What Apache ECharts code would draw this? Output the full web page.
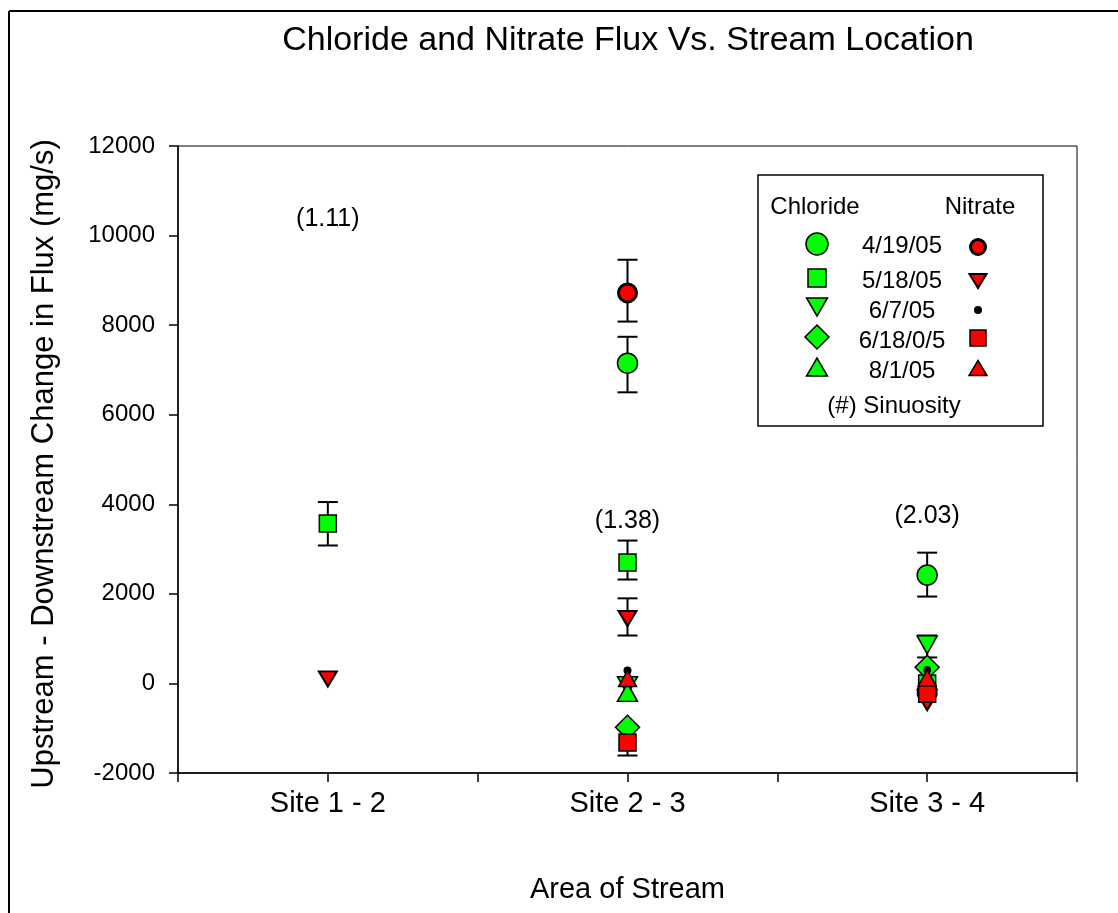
<!DOCTYPE html>
<html>
<head>
<meta charset="utf-8">
<script src="https://cdn.jsdelivr.net/npm/echarts@6/dist/echarts.min.js"></script>
<style>
html,body{margin:0;padding:0;background:#fff;}
#chart{width:1118px;height:913px;}
</style>
</head>
<body>
<div id="chart"></div>
<script>
// ---------- DATA ----------
const categories = ['Site 1 - 2', 'Site 2 - 3', 'Site 3 - 4'];
const sitePos = [1, 2, 3];
const dates = ['4/19/05', '5/18/05', '6/7/05', '6/18/0/5', '8/1/05'];
const yTicks = [-2000, 0, 2000, 4000, 6000, 8000, 10000, 12000];

// Chloride (per site, null = not measured)
const chl_0419 = [null, 7150, 2420];
const chl_0518 = [3570, 2700, 0];
const chl_0607 = [null, -50, 860];
const chl_0618 = [null, -980, 360];
const chl_0801 = [null, -200, 60];

// Nitrate
const nit_0419 = [null, 8720, -200];
const nit_0518 = [100, 1450, -430];
const nit_0607 = [null, 290, 300];
const nit_0618 = [null, -1320, -230];
const nit_0801 = [null, 110, 120];

// Error bars: site position, low, high
const errX    = [1, 2, 2, 2, 2, 2, 3, 3];
const errLow  = [3080, 8080, 6500, 2320, 1070, -1610, 1940, 580];
const errHigh = [4050, 9460, 7740, 3190, 1900, -1030, 2920, 1070];

// Sinuosity annotations
const sinX = [1, 2, 3];
const sinY = [10375, 3615, 3726];
const sinText = ['(1.11)', '(1.38)', '(2.03)'];

// ---------- CHART ----------
const FONT = 'Liberation Sans, Arial, sans-serif';
const GREEN = '#00ff00', RED = '#ff0000';
const chart = echarts.init(document.getElementById('chart'), null, {renderer: 'canvas'});

function pts(vals) {
  const out = [];
  vals.forEach((v, i) => { if (v !== null) out.push([sitePos[i], v]); });
  return out;
}
function sc(name, vals, symbol, size, color, opts) {
  opts = opts || {};
  return {
    name: name, type: 'scatter', data: pts(vals), symbol: symbol, symbolSize: size,
    symbolRotate: opts.rotate || 0, z: opts.z || 3,
    itemStyle: {color: color, borderColor: '#000', borderWidth: opts.bw === undefined ? 1.5 : opts.bw, opacity: 1},
    emphasis: {disabled: true}
  };
}

const errData = errX.map((x, i) => [x, errLow[i], errHigh[i]]);
const sinData = sinX.map((x, i) => [x, sinY[i], i]);

// legend graphics
const LX = 758, LY = 175, LW = 285, LH = 251;
const chlX = 817, nitX = 978, dateX = 902;
const rowY = [245, 280, 310, 340, 370];
const g = [];
g.push({type: 'line', shape: {x1: 9, y1: 11, x2: 1118, y2: 11}, style: {stroke: '#000', lineWidth: 2}});
g.push({type: 'line', shape: {x1: 9, y1: 11, x2: 9, y2: 913}, style: {stroke: '#000', lineWidth: 2}});
g.push({type: 'text', x: 628, y: 41, style: {text: 'Chloride and Nitrate Flux Vs. Stream Location', font: '34px ' + FONT, fill: '#000', textAlign: 'center', textVerticalAlign: 'middle'}});
g.push({type: 'rect', shape: {x: LX, y: LY, width: LW, height: LH}, style: {fill: '#fff', stroke: '#000', lineWidth: 1.5}, z: 10});
g.push({type: 'text', x: 815, y: 207, z: 11, style: {text: 'Chloride', font: '24px ' + FONT, fill: '#000', textAlign: 'center', textVerticalAlign: 'middle'}});
g.push({type: 'text', x: 980, y: 207, z: 11, style: {text: 'Nitrate', font: '24px ' + FONT, fill: '#000', textAlign: 'center', textVerticalAlign: 'middle'}});
dates.forEach((d, i) => {
  g.push({type: 'text', x: dateX, y: rowY[i] + 1, z: 11, style: {text: d, font: '24px ' + FONT, fill: '#000', textAlign: 'center', textVerticalAlign: 'middle'}});
});
g.push({type: 'text', x: 894, y: 406, z: 11, style: {text: '(#) Sinuosity', font: '24px ' + FONT, fill: '#000', textAlign: 'center', textVerticalAlign: 'middle'}});
function tri(cx, cy, w, h, down) {
  return down ? [[cx - w / 2, cy - h / 2], [cx + w / 2, cy - h / 2], [cx, cy + h / 2]]
              : [[cx - w / 2, cy + h / 2], [cx + w / 2, cy + h / 2], [cx, cy - h / 2]];
}
const sG = {fill: GREEN, stroke: '#000', lineWidth: 1.5};
const sR = {fill: RED, stroke: '#000', lineWidth: 1.5};
// chloride legend markers
g.push({type: 'circle', z: 11, shape: {cx: chlX, cy: 244, r: 11}, style: sG});
g.push({type: 'rect', z: 11, shape: {x: chlX - 9, y: 278 - 9, width: 18, height: 18}, style: sG});
g.push({type: 'polygon', z: 11, shape: {points: tri(chlX, 307, 21, 18, true)}, style: sG});
g.push({type: 'polygon', z: 11, shape: {points: [[chlX, 337 - 12], [chlX + 12, 337], [chlX, 337 + 12], [chlX - 12, 337]]}, style: sG});
g.push({type: 'polygon', z: 11, shape: {points: tri(chlX, 367, 21, 18, false)}, style: sG});
// nitrate legend markers
g.push({type: 'circle', z: 11, shape: {cx: nitX, cy: 247, r: 7.5}, style: {fill: RED, stroke: '#000', lineWidth: 3}});
g.push({type: 'polygon', z: 11, shape: {points: tri(nitX, 281, 17, 14, true)}, style: {fill: RED, stroke: '#000', lineWidth: 2}});
g.push({type: 'circle', z: 11, shape: {cx: nitX, cy: 310, r: 4}, style: {fill: '#000'}});
g.push({type: 'rect', z: 11, shape: {x: nitX - 8, y: 338 - 8, width: 16, height: 16}, style: sR});
g.push({type: 'polygon', z: 11, shape: {points: tri(nitX, 368, 18, 15, false)}, style: sR});

const option = {
  animation: false,
  backgroundColor: '#fff',
  grid: {left: 178, right: 41, top: 146, bottom: 140, outerBoundsMode: 'none', containLabel: false,
         show: true, borderColor: '#000', borderWidth: 1, backgroundColor: 'transparent'},
  xAxis: {
    type: 'value', min: 0.5, max: 3.5, interval: 0.5,
    name: 'Area of Stream', nameLocation: 'middle', nameGap: 102,
    nameTextStyle: {fontFamily: FONT, fontSize: 29, color: '#000'},
    axisLine: {show: true, onZero: false, lineStyle: {color: '#000', width: 1.5}},
    axisTick: {show: true, inside: false, length: 9, lineStyle: {color: '#000', width: 1.5}},
    splitLine: {show: false},
    axisLabel: {
      fontFamily: FONT, fontSize: 29, color: '#000', margin: 16,
      formatter: function (v) { const i = sitePos.indexOf(v); return i >= 0 ? categories[i] : ''; }
    }
  },
  yAxis: {
    type: 'value', min: yTicks[0], max: yTicks[yTicks.length - 1], interval: 2000,
    name: 'Upstream - Downstream Change in Flux (mg/s)', nameLocation: 'middle', nameGap: 118, nameRotate: 90,
    nameTextStyle: {fontFamily: FONT, fontSize: 31, color: '#000', padding: [0, 9, 0, 0]},
    axisLine: {show: true, onZero: false, lineStyle: {color: '#000', width: 1.5}},
    axisTick: {show: true, inside: false, length: 9, lineStyle: {color: '#000', width: 1.5}},
    splitLine: {show: false},
    axisLabel: {fontFamily: FONT, fontSize: 24, color: '#000', margin: 23, formatter: function (v) { return String(v); }}
  },
  graphic: g,
  series: [
    {
      type: 'custom', z: 2, data: errData, encode: {x: 0, y: [1, 2]},
      renderItem: function (params, api) {
        const x = api.value(0);
        const lo = api.coord([x, api.value(1)]);
        const hi = api.coord([x, api.value(2)]);
        const hw = 10;
        const st = {stroke: '#000', lineWidth: 2};
        return {type: 'group', children: [
          {type: 'line', shape: {x1: lo[0], y1: lo[1], x2: hi[0], y2: hi[1]}, style: st},
          {type: 'line', shape: {x1: lo[0] - hw, y1: lo[1], x2: lo[0] + hw, y2: lo[1]}, style: st},
          {type: 'line', shape: {x1: hi[0] - hw, y1: hi[1], x2: hi[0] + hw, y2: hi[1]}, style: st}
        ]};
      }
    },
    sc('Chloride 4/19/05', chl_0419, 'circle', 20, GREEN),
    sc('Chloride 5/18/05', chl_0518, 'rect', 17, GREEN),
    sc('Chloride 6/7/05', chl_0607, 'triangle', [20, 18], GREEN, {rotate: 180}),
    sc('Chloride 6/18/05', chl_0618, 'diamond', 24, GREEN),
    sc('Chloride 8/1/05', chl_0801, 'triangle', [20, 18], GREEN),
    sc('Nitrate 4/19/05', nit_0419, 'circle', 18, RED, {bw: 3, z: 4}),
    sc('Nitrate 5/18/05', nit_0518, 'triangle', [18, 15], RED, {rotate: 180, bw: 2, z: 4}),
    sc('Nitrate 6/7/05', nit_0607, 'circle', 8, '#000', {z: 4, bw: 0}),
    sc('Nitrate 6/18/05', nit_0618, 'rect', 17, RED, {z: 4}),
    sc('Nitrate 8/1/05', nit_0801, 'triangle', [18, 16], RED, {z: 4}),
    {
      type: 'custom', z: 5, silent: true, data: sinData, encode: {x: 0, y: 1},
      renderItem: function (params, api) {
        const p = api.coord([api.value(0), api.value(1)]);
        return {type: 'text', x: p[0], y: p[1], style: {text: sinText[api.value(2)], font: '25px ' + FONT, fill: '#000', textAlign: 'center', textVerticalAlign: 'middle'}};
      }
    }
  ]
};
chart.setOption(option);
</script>
</body>
</html>
